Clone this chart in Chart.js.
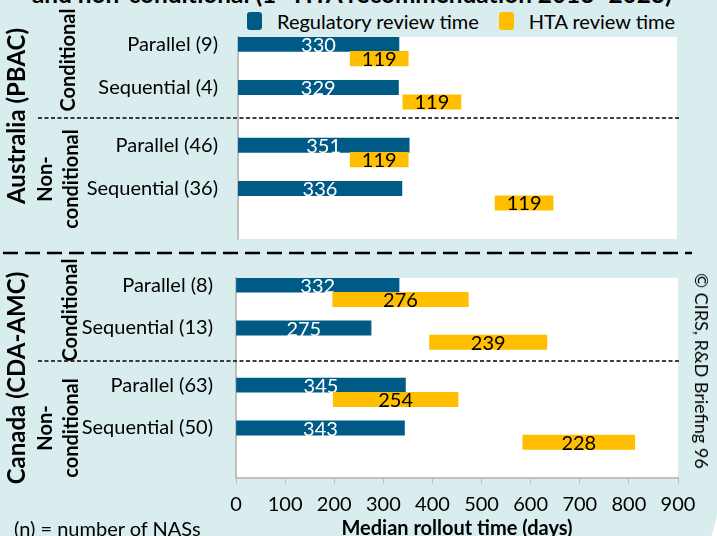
<!DOCTYPE html>
<html>
<head>
<meta charset="utf-8">
<script src="https://cdn.jsdelivr.net/npm/chart.js@4.4.1/dist/chart.umd.min.js"></script>
<style>
  html, body { margin: 0; padding: 0; width: 717px; height: 536px; overflow: hidden; background: #fff; }
  body { position: relative; font-family: Lato, "Open Sans", sans-serif; color: #000; }
  #bg { position: absolute; left: 0; top: 0; width: 718px; height: 600px; background: #d9ecee; border-bottom-right-radius: 100px; }
  canvas { position: absolute; left: 0; }
  #top { top: 17px; }
  #bottom { top: 258px; }
  .txt { position: absolute; white-space: nowrap; }
  .rot { position: absolute; white-space: nowrap; text-align: center; font-weight: bold; transform: translate(-50%, -50%) rotate(-90deg); }
  .rot90 { position: absolute; white-space: nowrap; transform: translate(-50%, -50%) rotate(90deg); }
  #title { left: 32px; bottom: 528px; font-size: 23px; font-weight: bold; line-height: 1.15; }
  #title sup { font-size: 0.6em; }
  #legend { position: absolute; left: 247px; top: 10px; display: flex; align-items: center; font-size: 20px; line-height: 22px; }
  #legend .box { width: 15px; height: 18px; border-radius: 3px; margin-right: 15px; }
  #legend .item { display: flex; align-items: center; margin-right: 20px; }
  svg { position: absolute; left: 0; top: 0; }
</style>
</head>
<body>
<div id="bg"></div>
<div id="title" class="txt">and non-conditional (1<sup>st</sup> HTA recommendation 2013–2023)</div>
<div id="legend"></div>

<canvas id="top" width="717" height="242"></canvas>
<canvas id="bottom" width="717" height="290"></canvas>

<div class="rot" style="left:15px; top:116px; font-size:24px;">Australia (PBAC)</div>
<div class="rot" style="left:67px; top:60px; font-size:20px;">Conditional</div>
<div class="rot" style="left:57px; top:179px; font-size:20px; line-height:26px;">Non-<br>conditional</div>
<div class="rot" style="left:15px; top:378px; font-size:24px;">Canada (CDA-AMC)</div>
<div class="rot" style="left:69px; top:310px; font-size:20px;">Conditional</div>
<div class="rot" style="left:57px; top:428px; font-size:20px; line-height:26px;">Non-<br>conditional</div>
<div class="rot90" style="left:702px; top:371px; font-size:18px;">© CIRS, R&amp;D Briefing 96</div>
<div class="txt" style="left:14px; top:516px; font-size:20px;">(n) = number of NASs</div>

<svg width="717" height="536">
  <line x1="38" y1="118" x2="680" y2="118" stroke="#000" stroke-width="1.6" stroke-dasharray="4 2.5"/>
  <line x1="38" y1="361" x2="680" y2="361" stroke="#000" stroke-width="1.6" stroke-dasharray="4 2.5"/>
  <line x1="3" y1="253" x2="692" y2="253" stroke="#000" stroke-width="2.4" stroke-dasharray="15 7"/>
</svg>

<script>
const FONT = 'Lato, "Open Sans", sans-serif';
const BLUE = '#005a86';
const YELLOW = '#ffbf00';
const AXIS = '#bfbfbf';

const seriesNames = ['Regulatory review time', 'HTA review time'];

// Australia (PBAC)
const ausCategories = ['Parallel (9)', 'Sequential (4)', 'Parallel (46)', 'Sequential (36)'];
const ausRegulatory = [330, 329, 351, 336];
const ausHtaStart = [230, 338, 230, 527];
const ausHta = [119, 119, 119, 119];

// Canada (CDA-AMC)
const canCategories = ['Parallel (8)', 'Sequential (13)', 'Parallel (63)', 'Sequential (50)'];
const canRegulatory = [332, 275, 345, 343];
const canHtaStart = [197, 394, 198, 584];
const canHta = [276, 239, 254, 228];

const xMin = 0, xMax = 900, xStep = 100;

// each group: regulatory row, HTA row right below; extra empty rows as spacing
const ROWS = 14;
const SLOTS = [0, 3, 7, 10];

function buildRows(cats, reg, htaStart, hta) {
  const labels = new Array(ROWS).fill('');
  const regRows = new Array(ROWS).fill(null);
  const htaRows = new Array(ROWS).fill(null);
  SLOTS.forEach((s, i) => {
    labels[s] = cats[i];
    regRows[s] = [0, reg[i]];
    htaRows[s + 1] = [htaStart[i], htaStart[i] + hta[i]];
  });
  return { labels, regRows, htaRows };
}

// title is cut off at the top edge; stretch it to the width it has in the original
const title = document.getElementById('title');
const tw = title.getBoundingClientRect().width;
title.style.fontSize = (23 * 640 / tw).toFixed(2) + 'px';

// legend
const legend = document.getElementById('legend');
[BLUE, YELLOW].forEach((c, i) => {
  const item = document.createElement('div');
  item.className = 'item';
  item.innerHTML = '<div class="box" style="background:' + c + '"></div><span>' + seriesNames[i] + '</span>';
  legend.appendChild(item);
});

const plotBg = {
  id: 'plotBg',
  beforeDraw(chart) {
    const { ctx, chartArea: a } = chart;
    ctx.save();
    ctx.fillStyle = '#fff';
    ctx.fillRect(a.left, a.top, a.right - a.left, a.bottom - a.top);
    ctx.restore();
  }
};

const barLabels = {
  id: 'barLabels',
  afterDatasetDraw(chart, args) {
    const ds = chart.data.datasets[args.index];
    const ctx = chart.ctx;
    ctx.save();
    ctx.font = '20px ' + FONT;
    ctx.fillStyle = ds.labelColor;
    ctx.textAlign = 'center';
    ctx.textBaseline = 'middle';
    args.meta.data.forEach((bar, i) => {
      const v = ds.data[i];
      if (!v) return;
      const c = bar.getCenterPoint();
      ctx.fillText(String(v[1] - v[0]), c.x, c.y + ds.labelShift);
    });
    ctx.restore();
  }
};

function makeChart(id, rows, opts) {
  return new Chart(document.getElementById(id), {
    type: 'bar',
    data: {
      labels: rows.labels,
      datasets: [
        { label: seriesNames[0], data: rows.regRows, backgroundColor: BLUE, barPercentage: 1, categoryPercentage: 1,
          grouped: false, order: 1, labelColor: '#fff', labelShift: 1.5 },
        { label: seriesNames[1], data: rows.htaRows, backgroundColor: YELLOW, barPercentage: 1, categoryPercentage: 1,
          grouped: false, order: 0, labelColor: '#000', labelShift: 1 }
      ]
    },
    options: {
      indexAxis: 'y',
      responsive: false,
      animation: false,
      layout: { padding: opts.padding },
      plugins: { legend: { display: false }, tooltip: { enabled: false } },
      scales: {
        x: {
          type: 'linear',
          min: xMin, max: xMax,
          display: opts.showX,
          afterFit: (axis) => { axis.height = opts.showX ? 70 : 0; },
          grid: { drawOnChartArea: false, drawTicks: true, tickLength: 6, color: AXIS },
          border: { color: AXIS, width: 2 },
          ticks: { stepSize: xStep, padding: 9, color: '#000', font: { family: FONT, size: 20 } },
          title: { display: true, text: 'Median rollout time (days)', color: '#000',
                   font: { family: FONT, size: 20, weight: 'bold' }, padding: { top: 0, bottom: 7 } }
        },
        y: {
          afterFit: (axis) => { axis.width = opts.axisLeft; },
          grid: { drawOnChartArea: false, drawTicks: true, tickLength: opts.labelGap, color: 'transparent' },
          border: { color: AXIS, width: 2 },
          ticks: { padding: 0, autoSkip: false, color: '#000', font: { family: FONT, size: 20 } }
        }
      }
    },
    plugins: [plotBg, barLabels]
  });
}

makeChart('top', buildRows(ausCategories, ausRegulatory, ausHtaStart, ausHta),
  { padding: { top: 20, bottom: 20, left: 0, right: 40 }, showX: false, axisLeft: 238, labelGap: 20 });
makeChart('bottom', buildRows(canCategories, canRegulatory, canHtaStart, canHta),
  { padding: { top: 20, bottom: 0, left: 0, right: 39 }, showX: true, axisLeft: 236, labelGap: 23 });
</script>
</body>
</html>
